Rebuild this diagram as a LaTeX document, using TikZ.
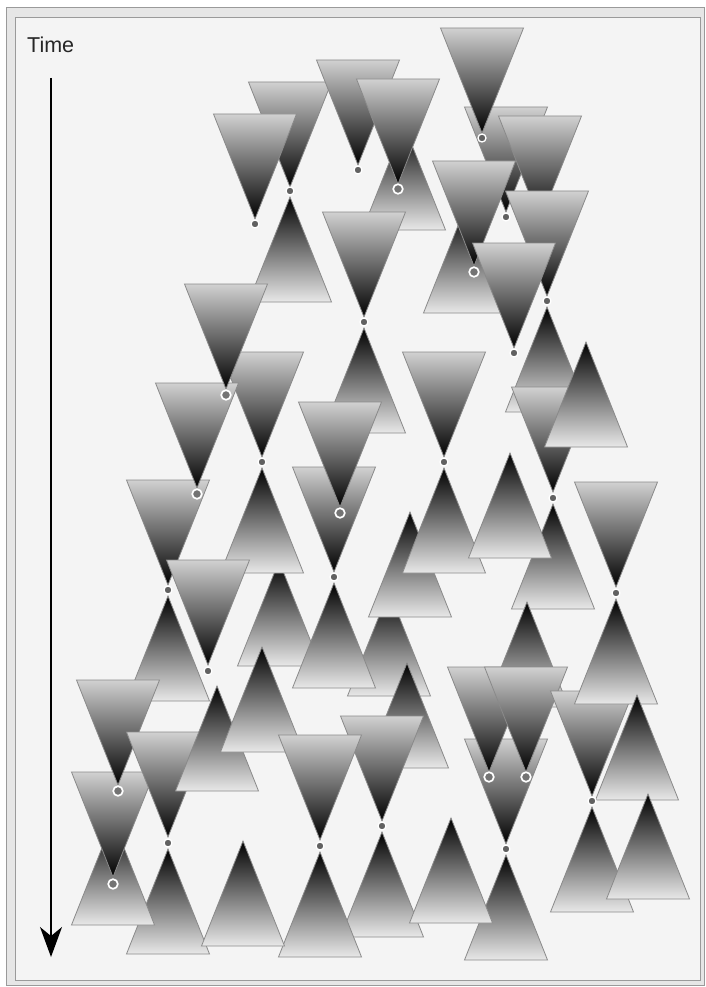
\documentclass[tikz,border=0pt]{standalone}
\usepackage{fontspec}
\setmainfont{Liberation Sans}
\usetikzlibrary{arrows.meta}
\definecolor{bgin}{HTML}{F4F4F4}
\definecolor{bgout}{HTML}{E6E6E6}
\definecolor{framegray}{HTML}{9A9A9A}
\definecolor{conegray}{HTML}{8A8A8A}
\tikzset{
 conedown/.style={draw=conegray, line width=0.8pt, top color=black!18, bottom color=black},
 coneup/.style={draw=conegray, line width=0.8pt, top color=black, bottom color=black!9},
 evfull/.style={draw=white, line width=1.3pt, fill=black!62},
 evopen/.style={draw=white, line width=1.7pt, fill=black!55},
}
\newcommand\dcone[2]{\path[conedown] (#1-41.5,#2-105) -- (#1+41.5,#2-105) -- (#1,#2) -- cycle;}
\newcommand\ucone[2]{\path[coneup] (#1,#2) -- (#1+41.5,#2+105) -- (#1-41.5,#2+105) -- cycle;}
\newcommand\fdot[2]{\path[evfull] (#1,#2) circle[radius=4pt];}
\newcommand\opdot[2]{\path[evopen] (#1,#2) circle[radius=4.8pt];}
\begin{document}
\begin{tikzpicture}[x=1pt,y=-1pt]
\useasboundingbox (0,0) rectangle (706,987);
\fill[white] (0,0) rectangle (706,987);
\draw[framegray, fill=bgout] (6.5,7.5) rectangle (704.5,985.5);
\draw[framegray, fill=bgin] (15.5,17) rectangle (700.5,980.5);
\node[anchor=base west, inner sep=0, font=\fontsize{21.5}{25}\selectfont, text=black!85] (timelabel) at (27,53) {Time};
\coordinate (tstart) at (51,78);
\coordinate (tend) at (51,957);
\draw[line width=1.3pt, -{Stealth[length=30pt,width=22pt,inset=9pt]}] (tstart) -- (tend);
% top group
\ucone{404}{125}
\dcone{290}{187}
\ucone{290}{197}
\dcone{255}{219}
\dcone{358}{165}
\dcone{364}{317}
\ucone{364}{328}
\dcone{398}{184}
\dcone{506}{212}
\dcone{482}{133}
\dcone{540}{221}
\dcone{547}{296}
\ucone{465}{208}
\dcone{474}{266}
\dcone{514}{348}
\ucone{547}{307}
\dcone{553}{492}
\ucone{586}{342}
\ucone{553}{504}
\dcone{444}{457}
\ucone{389}{591}
\ucone{410}{512}
\ucone{444}{468}
\ucone{510}{453}
\dcone{616}{587}
% middle left
\dcone{262}{457}
\ucone{279}{561}
\ucone{262}{468}
\dcone{168}{585}
\dcone{197}{488}
\dcone{226}{389}
\dcone{208}{665}
\ucone{168}{596}
\dcone{334}{572}
\ucone{334}{583}
\dcone{340}{507}
% lower left
\ucone{168}{849}
\ucone{113}{820}
\dcone{113}{877}
\dcone{118}{785}
\dcone{168}{837}
\ucone{217}{686}
\ucone{262}{647}
% lower middle
\ucone{407}{663}
\dcone{382}{821}
\ucone{382}{832}
\dcone{320}{840}
\ucone{320}{852}
\ucone{243}{841}
\ucone{527}{602}
\dcone{506}{844}
\ucone{506}{855}
\ucone{451}{818}
\dcone{489}{772}
\dcone{526}{772}
% lower right
\dcone{592}{796}
\ucone{592}{807}
\ucone{616}{599}
\ucone{637}{695}
\ucone{648}{794}
% events
\fdot{255}{224}
\fdot{290}{191}
\fdot{358}{170}
\fdot{482}{138}
\fdot{506}{217}
\fdot{547}{301}
\fdot{514}{353}
\fdot{364}{322}
\fdot{262}{462}
\fdot{168}{590}
\fdot{208}{671}
\fdot{334}{577}
\fdot{444}{462}
\fdot{553}{498}
\fdot{616}{593}
\fdot{168}{843}
\fdot{320}{846}
\fdot{382}{826}
\fdot{506}{849}
\fdot{592}{801}
\opdot{398}{189}
\opdot{474}{272}
\opdot{226}{395}
\opdot{197}{494}
\opdot{340}{513}
\opdot{118}{791}
\opdot{113}{884}
\opdot{489}{777}
\opdot{526}{777}
\end{tikzpicture}
\end{document}
